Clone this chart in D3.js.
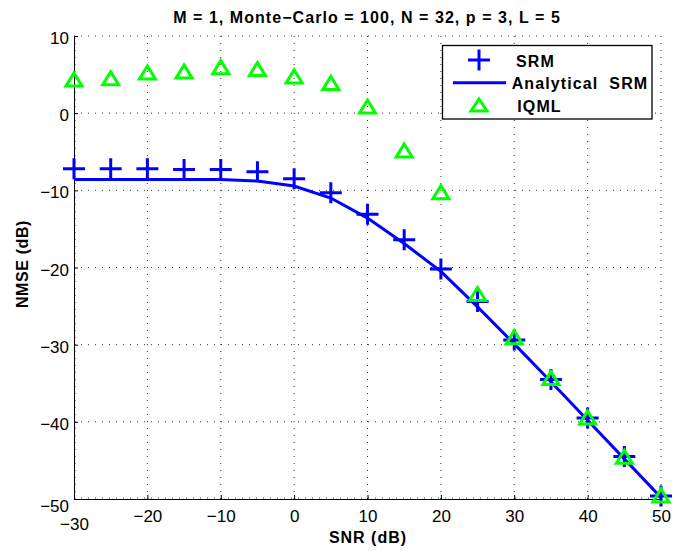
<!DOCTYPE html>
<html><head><meta charset="utf-8">
<script src="https://cdn.jsdelivr.net/npm/d3@7"></script>
<style>body{margin:0;background:#fff}svg{display:block}text{font-family:"Liberation Sans",Arial,sans-serif}</style>
</head><body>
<svg id="c" width="674" height="551"></svg>
<script>
const snr = [-30,-25,-20,-15,-10,-5,0,5,10,15,20,25,30,35,40,45,50];
const srm = [-7.2,-7.2,-7.2,-7.3,-7.3,-7.6,-8.5,-10.3,-13.1,-16.4,-20.2,-24.4,-29.4,-34.5,-39.5,-44.5,-49.6];
const analytical = [-8.6,-8.6,-8.6,-8.6,-8.6,-8.8,-9.45,-11.0,-13.6,-16.9,-20.5,-25.1,-29.9,-34.8,-39.8,-44.8,-49.8];
const iqml = [4.3,4.45,5.2,5.35,5.9,5.65,4.7,3.85,0.8,-4.9,-10.3,-23.5,-29.1,-34.4,-39.5,-44.6,-49.6];
const xTicks = [-30,-20,-10,0,10,20,30,40,50];
const yTicks = [10,0,-10,-20,-30,-40,-50];
const titleText = "M = 1, Monte\u2212Carlo = 100, N = 32, p = 3, L = 5";
const legendLabels = ["SRM", "Analytical  SRM", "IQML"];

const svg = d3.select("#c");
const L = 74, R = 661, T = 36, B = 499;
const x = d3.scaleLinear().domain([-30,50]).range([L,R]);
const y = d3.scaleLinear().domain([-50,10]).range([B,T]);
const fmt = d => d < 0 ? "\u2212" + Math.abs(d) : String(d);

// grid (dotted)
const g = svg.append("g");
g.selectAll(".gx").data(xTicks).enter().append("line")
  .attr("x1", d=>x(d)+(d===-30?1:0)).attr("x2", d=>x(d)+(d===-30?1:0)).attr("y1", B).attr("y2", T)
  .attr("stroke","#333").attr("stroke-width",1).attr("stroke-dasharray","1,6");
g.selectAll(".gy").data(yTicks).enter().append("line")
  .attr("y1", d=>y(d)-(d===-50?1:0)).attr("y2", d=>y(d)-(d===-50?1:0)).attr("x1", L).attr("x2", R)
  .attr("stroke","#333").attr("stroke-width",1).attr("stroke-dasharray","1,6");

// axes
const xa = svg.append("g").attr("transform",`translate(0,${B})`)
  .call(d3.axisBottom(x).tickValues(xTicks).tickFormat(fmt).tickSize(-4).tickPadding(11));
const ya = svg.append("g").attr("transform",`translate(${L},0)`)
  .call(d3.axisLeft(y).tickValues(yTicks).tickFormat(fmt).tickSize(-4).tickPadding(5));
[xa,ya].forEach(a=>{
  a.select(".domain").attr("stroke","#000").attr("stroke-width",1);
  a.selectAll(".tick line").attr("stroke","#000");
  a.selectAll("text").attr("font-size",17).attr("fill","#000").attr("font-family","Liberation Sans, Arial, sans-serif");
});
ya.selectAll("text").attr("dy","0.45em");
xa.selectAll(".tick").filter(d=>d===-30).select("text").attr("dy","20px");
ya.selectAll(".tick").filter(d=>d===-50).select("text").attr("dy","12px");

// analytical line
svg.append("path").datum(snr.map((s,i)=>[s,analytical[i]]))
  .attr("d", d3.line().x(d=>x(d[0])).y(d=>y(d[1])))
  .attr("fill","none").attr("stroke","#0000ff").attr("stroke-width",3);

// SRM plus markers
const plus = "M-11,0H11M0,-10.5V10.5";
svg.append("g").selectAll("path").data(snr.map((s,i)=>[s,srm[i]])).enter().append("path")
  .attr("d", plus).attr("transform", d=>`translate(${x(d[0])},${y(d[1])})`)
  .attr("stroke","#0000ff").attr("stroke-width",3).attr("fill","none");

// IQML triangles
const tri = "M0,-7L8,6H-8Z";
svg.append("g").selectAll("path").data(snr.map((s,i)=>[s,iqml[i]])).enter().append("path")
  .attr("d", tri).attr("transform", d=>`translate(${x(d[0])},${y(d[1])})`)
  .attr("stroke","#00ff00").attr("stroke-width",3).attr("fill","none");

// title
svg.append("text").attr("x", 367).attr("y", 22.5).attr("text-anchor","middle")
  .attr("font-size",16).attr("font-weight","bold").attr("letter-spacing","1.05px").text(titleText);
// axis labels
svg.append("text").attr("x", 368).attr("y", 543).attr("text-anchor","middle")
  .attr("font-size",16).attr("font-weight","bold").attr("letter-spacing","1px").text("SNR (dB)");
svg.append("text").attr("transform","translate(28,264) rotate(-90)").attr("text-anchor","middle")
  .attr("font-size",16).attr("font-weight","bold").attr("letter-spacing","0.6px").text("NMSE (dB)");

// legend
const lg = svg.append("g");
lg.append("rect").attr("x",442.5).attr("y",45.5).attr("width",209.5).attr("height",73.5)
  .attr("fill","#fff").attr("stroke","#000").attr("stroke-width",1.3);
const ly = [60, 82.7, 105];
const lb = [66.5, 89, 111.5];
const lx = [516, 511.7, 517.3];
lg.append("path").attr("d",plus).attr("transform",`translate(479,${ly[0]})`)
  .attr("stroke","#0000ff").attr("stroke-width",3).attr("fill","none");
lg.append("line").attr("x1",453).attr("x2",506).attr("y1",ly[1]).attr("y2",ly[1])
  .attr("stroke","#0000ff").attr("stroke-width",3);
lg.append("path").attr("d","M0,-6L8,6H-8Z").attr("transform",`translate(479,${ly[2]})`)
  .attr("stroke","#00ff00").attr("stroke-width",3).attr("fill","none");
lg.selectAll("text.l").data(legendLabels).enter().append("text")
  .attr("x",(d,i)=>lx[i]).attr("y",(d,i)=>lb[i]).attr("font-size",16).attr("font-weight","bold")
  .attr("letter-spacing","1.1px").style("white-space","pre").text(d=>d);
</script>
</body></html>
